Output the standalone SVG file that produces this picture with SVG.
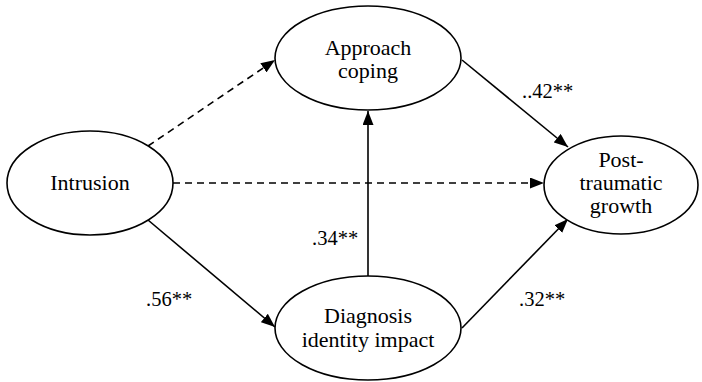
<svg xmlns="http://www.w3.org/2000/svg" width="702" height="382" viewBox="0 0 702 382">
<style>
.node{fill:#fff;stroke:#000;stroke-width:1.6}
.t{font-family:"Liberation Serif","Times New Roman",serif;font-size:22px;fill:#000;text-anchor:middle}
.lbl{font-family:"Liberation Serif","Times New Roman",serif;font-size:20.5px;fill:#000}
.e{stroke:#000;stroke-width:1.6;fill:none;marker-end:url(#ah)}
.d{stroke-dasharray:7 5}
</style>
<defs>
<marker id="ah" viewBox="0 0 14 11" refX="14" refY="5.5" markerWidth="14" markerHeight="11" markerUnits="userSpaceOnUse" orient="auto">
<path d="M0,0 L14,5.5 L0,11 z" fill="#000"/>
</marker>
</defs>
<g id="connectors">
<line class="e d" x1="148" y1="146" x2="275" y2="60"/>
<line class="e d" x1="173" y1="183" x2="544" y2="183"/>
<line class="e" x1="148" y1="220" x2="275" y2="327"/>
<line class="e" x1="368" y1="276" x2="368" y2="111"/>
<line class="e" x1="462" y1="60" x2="568" y2="147"/>
<line class="e" x1="462" y1="328" x2="568" y2="219"/>
<text class="lbl" x="522" y="98">..42**</text>
<text class="lbl" x="312" y="245">.34**</text>
<text class="lbl" x="146" y="306">.56**</text>
<text class="lbl" x="519" y="306">.32**</text>
</g>
<g id="intrusion">
<ellipse class="node" cx="90" cy="183" rx="83" ry="52"/>
<text class="t" x="90" y="190">Intrusion</text>
</g>
<g id="approach">
<ellipse class="node" cx="368" cy="58" rx="93" ry="52"/>
<text class="t" x="368" y="55">Approach</text>
<text class="t" x="368" y="78">coping</text>
</g>
<g id="ptg">
<ellipse class="node" cx="621" cy="185" rx="77" ry="49"/>
<text class="t" x="621" y="167">Post-</text>
<text class="t" x="621" y="190">traumatic</text>
<text class="t" x="621" y="213">growth</text>
</g>
<g id="diagnosis">
<ellipse class="node" cx="368" cy="328" rx="93" ry="52"/>
<text class="t" x="368" y="323">Diagnosis</text>
<text class="t" x="368" y="347">identity impact</text>
</g>
</svg>
